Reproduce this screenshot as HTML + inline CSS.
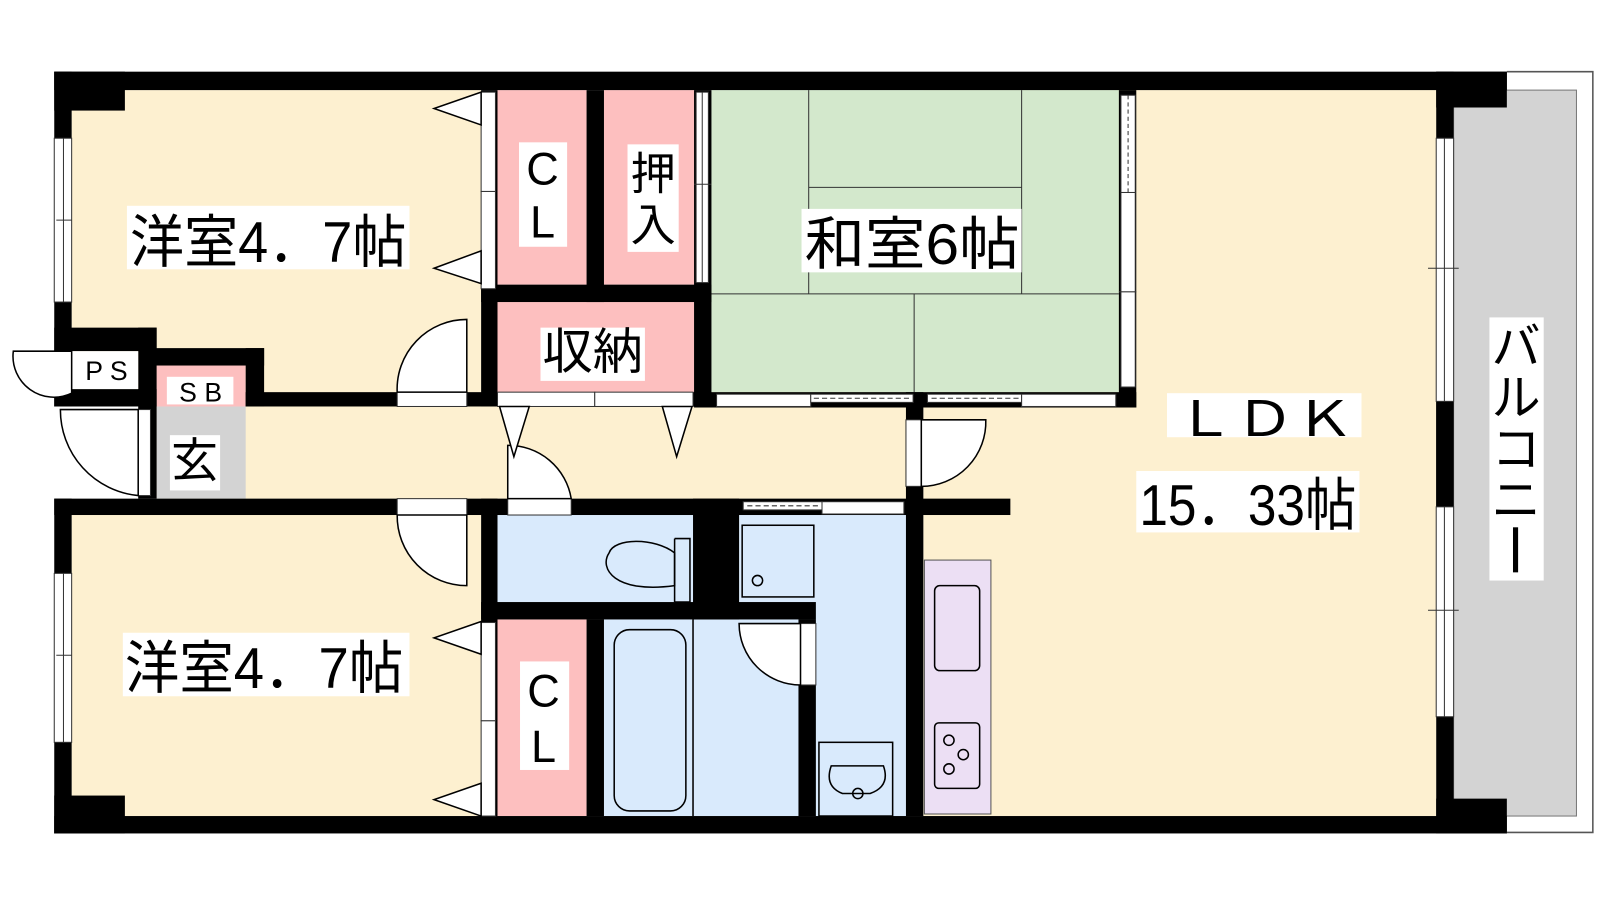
<!DOCTYPE html>
<html><head><meta charset="utf-8"><style>
body{margin:0;background:#fff;width:1600px;height:900px;overflow:hidden}
svg{display:block}
svg text{font-family:"Liberation Sans","Noto Sans CJK JP",sans-serif;fill:#000}
</style></head><body>
<svg width="1600" height="900" viewBox="0 0 1563 879" preserveAspectRatio="none" xmlns="http://www.w3.org/2000/svg">
<rect x="1420" y="88" width="120" height="709" fill="#d3d3d3" stroke="#777" stroke-width="1"/>
<path d="M1472 70H1556V813H1472" fill="none" stroke="#555" stroke-width="1.5"/>
<rect x="70" y="88" width="400" height="295" fill="#fdf0d0"/>
<rect x="153" y="383" width="740" height="104" fill="#fdf0d0"/>
<rect x="70" y="503" width="400" height="294" fill="#fdf0d0"/>
<rect x="902" y="88" width="501" height="709" fill="#fdf0d0"/>
<rect x="1093" y="88" width="310" height="310" fill="#fdf0d0"/>
<rect x="486" y="88" width="87" height="190" fill="#fdbfbf"/>
<rect x="590" y="88" width="88" height="190" fill="#fdbfbf"/>
<rect x="486" y="295" width="192" height="88" fill="#fdbfbf"/>
<rect x="486" y="605" width="87" height="192" fill="#fdbfbf"/>
<rect x="153" y="357" width="87" height="40" fill="#fdbfbf"/>
<rect x="153" y="397" width="87" height="90" fill="#d3d3d3"/>
<rect x="695" y="88" width="398" height="295" fill="#d3e8cc"/>
<rect x="486" y="503" width="191" height="85" fill="#d9eafc"/>
<rect x="590" y="605" width="190" height="192" fill="#d9eafc"/>
<rect x="722" y="503" width="163" height="294" fill="#d9eafc"/>
<rect x="903" y="547" width="65" height="248" fill="#ecdff4" stroke="#555" stroke-width="1"/>
<g stroke="#333" stroke-width="1" fill="none">
<path d="M790 88V183M998 88V287M790 183H998M790 183V287M695 287H1093M893 287V383"/>
</g>
<g fill="#000">
<rect x="53" y="70" width="1419" height="18"/>
<rect x="53" y="70" width="69" height="38"/>
<rect x="1403" y="70" width="69" height="35"/>
<rect x="53" y="797" width="1419" height="17"/>
<rect x="53" y="777" width="69" height="37"/>
<rect x="1403" y="780" width="69" height="34"/>
<rect x="53" y="70" width="17" height="327"/>
<rect x="53" y="487" width="17" height="327"/>
<rect x="1403" y="70" width="17" height="744"/>
<rect x="53" y="320" width="100" height="23"/>
<rect x="135" y="320" width="18" height="167"/>
<rect x="53" y="380" width="100" height="17"/>
<rect x="140" y="340" width="118" height="17"/>
<rect x="240" y="340" width="18" height="57"/>
<rect x="240" y="383" width="455" height="14"/>
<rect x="470" y="88" width="16" height="309"/>
<rect x="573" y="88" width="17" height="207"/>
<rect x="470" y="278" width="225" height="17"/>
<rect x="678" y="88" width="17" height="309"/>
<rect x="1093" y="88" width="17" height="310"/>
<rect x="678" y="383" width="432" height="15"/>
<rect x="53" y="487" width="934" height="16"/>
<rect x="470" y="487" width="16" height="310"/>
<rect x="573" y="605" width="17" height="192"/>
<rect x="470" y="588" width="327" height="17"/>
<rect x="677" y="487" width="45" height="118"/>
<rect x="780" y="605" width="17" height="192"/>
<rect x="885" y="383" width="17" height="414"/>
<rect x="1403" y="392" width="17" height="103"/>
</g>
<g fill="#fff" stroke="#333" stroke-width="1">
<rect x="53" y="135" width="17" height="160"/>
<rect x="53" y="560" width="17" height="165"/>
<rect x="1403" y="135" width="17" height="257"/>
<rect x="1403" y="495" width="17" height="205"/>
<rect x="1095" y="93" width="14" height="95"/>
<rect x="1095" y="188" width="14" height="190"/>
<rect x="470" y="90" width="14" height="97"/>
<rect x="470" y="187" width="14" height="95"/>
<rect x="470" y="608" width="14" height="96"/>
<rect x="470" y="704" width="14" height="93"/>
<rect x="680" y="90" width="12" height="186"/>
<rect x="486" y="383" width="95" height="14"/>
<rect x="581" y="383" width="96" height="14"/>
<rect x="700" y="385" width="92" height="12"/>
<rect x="792" y="385" width="100" height="8"/>
<rect x="906" y="385" width="92" height="8"/>
<rect x="998" y="385" width="92" height="12"/>
<rect x="726" y="490" width="77" height="8"/>
<rect x="803" y="490" width="80" height="12"/>
<rect x="388" y="383" width="68" height="14"/>
<rect x="388" y="487" width="68" height="16"/>
<rect x="496" y="487" width="62" height="16"/>
<rect x="135" y="400" width="12" height="84"/>
<rect x="885" y="410" width="15" height="65"/>
<rect x="782" y="609" width="15" height="60"/>
<rect x="70" y="343" width="65" height="37" stroke="none"/>
</g>
<g stroke="#333" stroke-width="1" fill="none">
<path d="M62 135V295M62 560V725M1411 135V392M1411 495V700M686 90V276"/>
<path d="M1102 93V188" stroke-dasharray="4,3"/>
<path d="M795 389H890M910 389H995M730 494H800" stroke-dasharray="5,3"/>
<path d="M55 215H70M1395 262H1425M1395 596H1425M55 640H70M678 180H695M1093 285H1110"/>
</g>
<g fill="#fff" stroke="#000" stroke-width="1.5">
<path d="M456 383V312A68 68 0 0 0 388 383Z"/>
<path d="M456 503V572A68 68 0 0 1 388 503Z"/>
<path d="M496 487V435A62 62 0 0 1 558 487Z"/>
<path d="M900 475V410H963A63 63 0 0 1 900 475Z"/>
<path d="M782 609V669A60 60 0 0 1 722 609Z"/>
<path d="M135 400V484A84 84 0 0 1 59 400Z"/>
<path d="M70 343V384A40 40 0 0 1 13 343Z"/>
<path d="M470 90L424 106L470 122Z"/>
<path d="M470 245L424 262L470 277Z"/>
<path d="M470 607L424 623L470 639Z"/>
<path d="M470 765L424 781L470 797Z"/>
<path d="M488 397L502 446L517 397Z"/>
<path d="M647 397L661 446L676 397Z"/>
</g>
<g fill="none" stroke="#000" stroke-width="1.5">
<path d="M659 526V588M659 526H674V588H659"/>
<path d="M659 540C640 525 600 525 595 540C585 555 600 580 659 572Z"/>
<rect x="725" y="513" width="70" height="70"/>
<circle cx="740" cy="567" r="5"/>
<rect x="600" y="615" width="70" height="177" rx="15"/>
<path d="M677 605V797"/>
<rect x="800" y="725" width="72" height="72"/>
<path d="M812 748H863Q870 768 850 775H823Q805 768 812 748Z"/>
<circle cx="838" cy="775" r="5"/>
<rect x="913" y="572" width="44" height="83" rx="5"/>
<rect x="913" y="706" width="44" height="64" rx="4"/>
<circle cx="927" cy="723" r="5"/><circle cx="941" cy="737" r="5"/><circle cx="927" cy="751" r="5"/>
</g>
<g>
<rect x="124" y="201" width="276" height="62" fill="#fff"/>
<text x="127" y="256" font-size="56" textLength="270" lengthAdjust="spacingAndGlyphs">洋室4．7帖</text>
<rect x="120" y="618" width="280" height="62" fill="#fff"/>
<text x="122" y="672" font-size="56" textLength="272" lengthAdjust="spacingAndGlyphs">洋室4．7帖</text>
<rect x="507" y="139" width="47" height="102" fill="#fff"/>
<text x="530" y="180" font-size="44" text-anchor="middle">C</text>
<text x="530" y="232" font-size="44" text-anchor="middle">L</text>
<rect x="508" y="646" width="48" height="106" fill="#fff"/>
<text x="531" y="690" font-size="44" text-anchor="middle">C</text>
<text x="531" y="744" font-size="44" text-anchor="middle">L</text>
<rect x="613" y="141" width="50" height="105" fill="#fff"/>
<text x="638" y="185" font-size="44" text-anchor="middle">押</text>
<text x="638" y="235" font-size="44" text-anchor="middle">入</text>
<rect x="528" y="320" width="102" height="52" fill="#fff"/>
<text x="530" y="360" font-size="48" textLength="98" lengthAdjust="spacingAndGlyphs">収納</text>
<rect x="783" y="204" width="215" height="62" fill="#fff"/>
<text x="786" y="258" font-size="56" textLength="210" lengthAdjust="spacingAndGlyphs">和室6帖</text>
<rect x="76" y="344" width="56" height="35" fill="#fff"/>
<text x="104" y="371" font-size="26" text-anchor="middle">P S</text>
<rect x="163" y="368" width="65" height="27" fill="#fff"/>
<text x="196" y="392" font-size="26" text-anchor="middle">S B</text>
<rect x="166" y="425" width="49" height="54" fill="#fff"/>
<text x="190" y="466" font-size="46" text-anchor="middle">玄</text>
<rect x="1140" y="384" width="190" height="43" fill="#fff"/>
<text x="1148" y="426" font-size="48" textLength="175" lengthAdjust="spacingAndGlyphs">ＬＤＫ</text>
<rect x="1110" y="460" width="218" height="60" fill="#fff"/>
<text x="1113" y="513" font-size="56" textLength="212" lengthAdjust="spacingAndGlyphs">15．33帖</text>
<rect x="1455" y="310" width="53" height="257" fill="#fff"/>
<text x="1481" y="355" font-size="48" text-anchor="middle">バ</text>
<text x="1481" y="405" font-size="48" text-anchor="middle">ル</text>
<text x="1481" y="455" font-size="48" text-anchor="middle">コ</text>
<text x="1481" y="505" font-size="48" text-anchor="middle">ニ</text>
<rect x="1478" y="515" width="5" height="44" fill="#000"/>
</g>
</svg>
</body></html>
